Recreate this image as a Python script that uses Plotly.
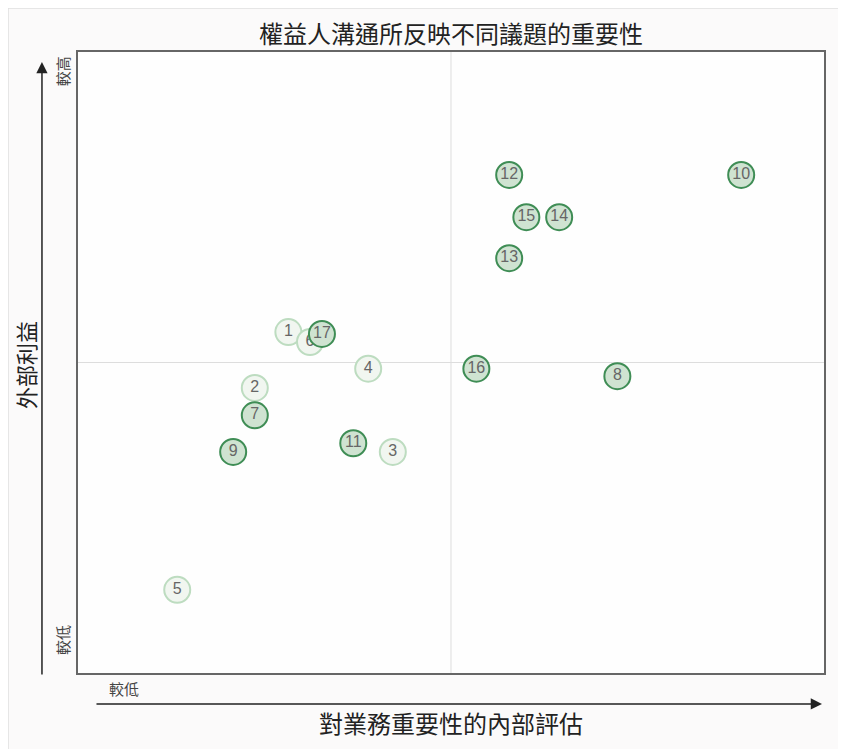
import plotly.graph_objects as go

# Data
issue_ids = ["1", "2", "3", "4", "5", "6", "7", "8", "9", "10",
             "11", "12", "13", "14", "15", "16", "17"]
internal_importance = [2.82, 2.37, 4.22, 3.89, 1.33, 3.11, 2.37, 7.23, 2.08, 8.89,
                       3.69, 5.78, 5.78, 6.45, 6.01, 5.34, 3.27]
external_interest = [5.49, 4.59, 3.56, 4.90, 1.34, 5.33, 4.15, 4.78, 3.56, 8.02,
                     3.70, 8.02, 6.68, 7.34, 7.34, 4.90, 5.46]
highlighted = [False, False, False, False, False, False, True, True, True, True,
               True, True, True, True, True, True, True]

title_text = "權益人溝通所反映不同議題的重要性"
x_title = "對業務重要性的內部評估"
y_title = "外部利益"
low_label = "較低"
high_label = "較高"

CJK = "Noto Sans CJK TC"

fig = go.Figure()

groups = [(False, "#f1f6f0", "#bddcc0"), (True, "#cfe3d1", "#3f8d55")]
for flag, fill, edge in groups:
    xs = [x for x, h in zip(internal_importance, highlighted) if h == flag]
    ys = [y for y, h in zip(external_interest, highlighted) if h == flag]
    ts = [t for t, h in zip(issue_ids, highlighted) if h == flag]
    fig.add_trace(go.Scatter(
        x=xs, y=ys, text=ts, mode="markers+text",
        textposition="middle center",
        textfont=dict(family="Liberation Sans, Arial", size=16, color="#666666"),
        marker=dict(size=26, color=fill, line=dict(color=edge, width=2)),
        hoverinfo="text", showlegend=False,
    ))

# quadrant lines
fig.add_shape(type="line", xref="x", yref="paper", x0=5, x1=5, y0=0, y1=1,
              line=dict(color="#dddddd", width=1), layer="below")
fig.add_shape(type="line", xref="paper", yref="y", x0=0, x1=1, y0=5, y1=5,
              line=dict(color="#dddddd", width=1), layer="below")

# panel border at the figure edge
fig.add_shape(type="rect", xref="paper", yref="paper",
              x0=-70 / 746, x1=1.2, y0=-0.3, y1=1 + 44 / 621,
              line=dict(color="#e0e0e0", width=1.5), fillcolor="rgba(0,0,0,0)", layer="below")

annotations = [
    dict(text=title_text, x=0.5, y=1.0306, xref="paper", yref="paper",
         showarrow=False, font=dict(family=CJK, size=24, color="#222222"),
         xanchor="center", yanchor="middle"),
    dict(text=x_title, x=0.5, y=-0.0805, xref="paper", yref="paper",
         showarrow=False, font=dict(family=CJK, size=24, color="#222222"),
         xanchor="center", yanchor="middle"),
    dict(text=y_title, x=-0.0717, y=0.495, xref="paper", yref="paper",
         showarrow=False, textangle=-90, font=dict(family=CJK, size=22, color="#222222"),
         xanchor="center", yanchor="middle"),
    dict(text=high_label, x=-0.0214, y=0.969, xref="paper", yref="paper",
         showarrow=False, textangle=-90, font=dict(family=CJK, size=15, color="#444444"),
         xanchor="center", yanchor="middle"),
    dict(text=low_label, x=-0.0214, y=0.053, xref="paper", yref="paper",
         showarrow=False, textangle=-90, font=dict(family=CJK, size=15, color="#444444"),
         xanchor="center", yanchor="middle"),
    dict(text=low_label, x=0.0617, y=-0.0242, xref="paper", yref="paper",
         showarrow=False, font=dict(family=CJK, size=15, color="#444444"),
         xanchor="center", yanchor="middle"),
    # vertical arrow
    dict(text="", x=-0.0483, y=0.984, xref="paper", yref="paper",
         showarrow=True, ax=0, ay=614, axref="pixel", ayref="pixel",
         arrowhead=2, arrowsize=1.5, arrowwidth=1.5, arrowcolor="#222222"),
    # horizontal arrow
    dict(text="", x=0.9973, y=-0.0499, xref="paper", yref="paper",
         showarrow=True, ax=-727, ay=0, axref="pixel", ayref="pixel",
         arrowhead=2, arrowsize=1.5, arrowwidth=1.5, arrowcolor="#222222"),
]

fig.update_layout(
    width=846, height=749,
    margin=dict(l=70, r=30, t=44, b=84),
    paper_bgcolor="#fbfafa",
    plot_bgcolor="#fefefe",
    annotations=annotations,
    xaxis=dict(range=[0, 10], showgrid=False, zeroline=False, showticklabels=False,
               ticks="", showline=True, mirror=True, linecolor="#666666", linewidth=1.5),
    yaxis=dict(range=[0, 10], showgrid=False, zeroline=False, showticklabels=False,
               ticks="", showline=True, mirror=True, linecolor="#666666", linewidth=1.5),
)

fig.write_html("out.html")
